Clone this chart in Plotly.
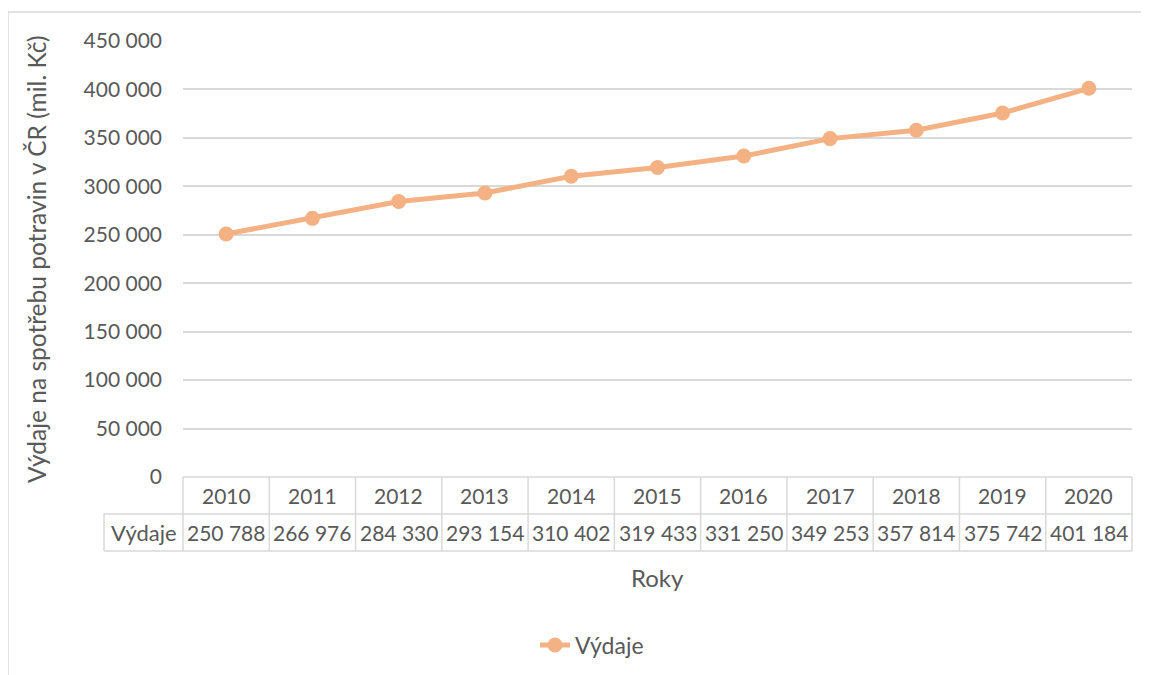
import plotly.graph_objects as go

years = ["2010", "2011", "2012", "2013", "2014", "2015", "2016", "2017", "2018", "2019", "2020"]
vydaje = [250788, 266976, 284330, 293154, 310402, 319433, 331250, 349253, 357814, 375742, 401184]
series_name = "Výdaje"
y_ticks = [0, 50000, 100000, 150000, 200000, 250000, 300000, 350000, 400000, 450000]

OFF = 8  # page body margin
W, H = 1149 - OFF, 675 - OFF
# plot area in reference-screen pixels
L, R, T, B = 183, 1132, 41, 477
pw, ph = R - L, B - T

def px_x(p):
    return (p - L) / pw

def px_y(p):
    return (B - p) / ph

def fmt(v):
    return f"{v:,}".replace(",", " ")

ORANGE = "#F4B183"
TXT = "#595959"
GRID = "#D9D9D9"
FONT = "Lato, Carlito, Calibri, sans-serif"
NUM = 21

fig = go.Figure()
fig.add_trace(go.Scatter(
    x=years, y=vydaje, name=series_name, mode="lines+markers",
    line=dict(color=ORANGE, width=5),
    marker=dict(color=ORANGE, size=15),
    cliponaxis=False,
))

n = len(years)
shapes = []
annotations = []
row1_top, row1_bot, row2_bot = 0.0, px_y(514), px_y(551)
left_col = px_x(104)
gl = dict(color=GRID, width=1.5)
shapes.append(dict(type="line", xref="paper", yref="paper", x0=0, x1=1, y0=row1_top, y1=row1_top, line=gl))
for yy in (row1_bot, row2_bot):
    shapes.append(dict(type="line", xref="paper", yref="paper", x0=left_col, x1=1, y0=yy, y1=yy, line=gl))
for i in range(n + 1):
    xx = i / n
    shapes.append(dict(type="line", xref="paper", yref="paper", x0=xx, x1=xx, y0=row1_top, y1=row2_bot, line=gl))
shapes.append(dict(type="line", xref="paper", yref="paper", x0=left_col, x1=left_col, y0=row1_bot, y1=row2_bot, line=gl))
# outer chart border (top & left)
shapes.append(dict(type="line", xref="paper", yref="paper", x0=px_x(8), x1=px_x(1160), y0=px_y(12), y1=px_y(12), line=gl))
shapes.append(dict(type="line", xref="paper", yref="paper", x0=px_x(8), x1=px_x(8), y0=px_y(12), y1=px_y(690), line=gl))

for i, (yr, v) in enumerate(zip(years, vydaje)):
    cx = (i + 0.5) / n
    annotations.append(dict(x=cx, y=(row1_top + row1_bot) / 2, xref="paper", yref="paper", text=yr, showarrow=False,
                            font=dict(size=NUM, color=TXT, family=FONT), xanchor="center", yanchor="middle"))
    annotations.append(dict(x=cx, y=(row1_bot + row2_bot) / 2, xref="paper", yref="paper", text=fmt(v), showarrow=False,
                            font=dict(size=NUM, color=TXT, family=FONT), xanchor="center", yanchor="middle"))
annotations.append(dict(x=left_col / 2, y=(row1_bot + row2_bot) / 2, xref="paper", yref="paper", text=series_name, showarrow=False,
                        font=dict(size=22, color=TXT, family=FONT), xanchor="center", yanchor="middle"))
annotations.append(dict(x=px_x(657), y=px_y(577), xref="paper", yref="paper", text="Roky", showarrow=False,
                        font=dict(size=24, color=TXT, family=FONT), xanchor="center", yanchor="middle"))
annotations.append(dict(x=px_x(36), y=px_y(259), xref="paper", yref="paper", text="Výdaje na spotřebu potravin v ČR (mil. Kč)",
                        showarrow=False, textangle=-90,
                        font=dict(size=24.5, color=TXT, family=FONT), xanchor="center", yanchor="middle"))

fig.update_layout(
    width=W, height=H,
    margin=dict(l=L - OFF, r=W - (R - OFF), t=T - OFF, b=H - (B - OFF), autoexpand=False),
    paper_bgcolor="white", plot_bgcolor="white",
    font=dict(family=FONT, color=TXT, size=NUM),
    showlegend=True,
    legend=dict(orientation="h", x=px_x(592), y=px_y(645), xanchor="center", yanchor="middle",
                font=dict(size=23, color=TXT, family=FONT), bgcolor="rgba(0,0,0,0)"),
    xaxis=dict(type="category", range=[-0.5, n - 0.5], showticklabels=False, showgrid=False,
               zeroline=False, showline=False, ticks=""),
    yaxis=dict(range=[0, 450000], tickvals=y_ticks, ticktext=[fmt(v) for v in y_ticks],
               showgrid=True, gridcolor=GRID, gridwidth=1.5, zeroline=False, showline=False,
               ticks="", ticklabelstandoff=20, tickfont=dict(size=NUM, color=TXT, family=FONT)),
    shapes=shapes, annotations=annotations,
)

fig.write_html("out.html")
